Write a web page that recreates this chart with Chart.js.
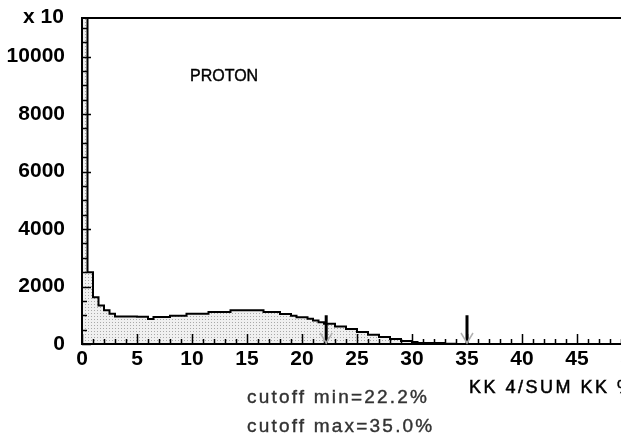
<!DOCTYPE html>
<html>
<head>
<meta charset="utf-8">
<script src="https://cdn.jsdelivr.net/npm/chart.js@4/dist/chart.umd.min.js"></script>
<style>
  html, body { margin: 0; padding: 0; background: #fff; overflow: hidden; }
  #wrap { position: relative; width: 650px; height: 435px; }
  .lbl { position: absolute; white-space: nowrap; font-family: "Liberation Sans", Arial, sans-serif; color: #000; }
  #xten { left: 23px; top: 5px; font-size: 21px; line-height: 21px; font-weight: bold; }
  #proton { left: 190px; top: 68px; font-size: 16px; line-height: 16px; font-family: "Liberation Sans Narrow", "Liberation Sans", sans-serif; color: #000; -webkit-text-stroke: 0.4px #000; }
  #xtitle { left: 469px; top: 378px; font-size: 18px; line-height: 18px; letter-spacing: 2.5px; color: #000; -webkit-text-stroke: 0.5px #000; }
  .cut { left: 247px; font-size: 19px; line-height: 19px; letter-spacing: 2.2px; color: #333; -webkit-text-stroke: 0.4px #333; }
</style>
</head>
<body>
<div id="wrap">
  <canvas id="histo"></canvas>
  <div class="lbl" id="xten">x 10</div>
  <div class="lbl" id="proton">PROTON</div>
  <div class="lbl" id="xtitle">KK 4/SUM KK %</div>
  <div class="lbl cut" style="top:387px">cutoff min=22.2%</div>
  <div class="lbl cut" style="top:416px">cutoff max=35.0%</div>
</div>
<script>
  // histogram: 100 bins of 0.5 % from 0 to 50
  const binWidth = 0.5;
  const counts = [
    11800, 2500, 1630, 1340, 1170, 1050, 960, 960, 955, 955,
    950, 950, 870, 940, 940, 940, 985, 985, 985, 1050,
    1050, 1050, 1050, 1110, 1110, 1110, 1110, 1170, 1170, 1170,
    1170, 1170, 1170, 1110, 1110, 1110, 1045, 1045, 985, 930,
    930, 875, 815, 760, 705, 705, 612, 612, 520, 520,
    420, 420, 325, 325, 245, 245, 175, 175, 105, 105,
    70, 35, 35, 35, 35, 35, 10, 10, 0, 0,
    0, 0, 0, 0, 0, 0, 0, 0, 0, 0,
    0, 0, 0, 0, 0, 0, 0, 0, 0, 0,
    0, 0, 0, 0, 0, 0, 0, 0, 0, 0
  ];
  const cutoffs = [22.2, 35.0];
  const arrowHeight = 1000;
  const xTicks = [0, 5, 10, 15, 20, 25, 30, 35, 40, 45, 50];
  const yTicks = [0, 2000, 4000, 6000, 8000, 10000];

  // points at the lower edge of each bin, plus the closing edge
  const histPoints = counts.map((c, i) => ({ x: i * binWidth, y: c }));
  histPoints.push({ x: counts.length * binWidth, y: counts[counts.length - 1] });

  // dotted grey fill like the shaded area
  const pat = document.createElement('canvas');
  pat.width = 3; pat.height = 3;
  const pctx = pat.getContext('2d');
  pctx.fillStyle = '#f0f0f0';
  pctx.fillRect(0, 0, 3, 3);
  pctx.fillStyle = '#a9a9a9';
  pctx.fillRect(1, 1, 1, 1);
  const dotFill = pctx.createPattern(pat, 'repeat');

  // cutoff arrows, drawn above the histogram
  const arrowSets = cutoffs.map(v => ({
    type: 'line',
    order: -1,
    data: [{ x: v, y: 0 }, { x: v, y: arrowHeight }],
    borderColor: '#000',
    borderWidth: 3,
    borderCapStyle: 'butt',
    pointRadius: 0,
    fill: false
  }));

  // frame, inward tick marks and the small arrow heads
  const framePlugin = {
    id: 'frame',
    afterDatasetsDraw(chart) {
      const { ctx, chartArea: a, scales: { x, y } } = chart;
      ctx.save();
      ctx.strokeStyle = '#000';
      ctx.lineWidth = 2;
      ctx.strokeRect(a.left, a.top, a.right - a.left, a.bottom - a.top);

      ctx.lineWidth = 1.5;
      ctx.beginPath();
      for (let v = 0; v <= 50; v += 1) {
        const px = Math.round(x.getPixelForValue(v)) + 0.5;
        const len = v % 5 === 0 ? 10 : 5;
        ctx.moveTo(px, a.bottom);
        ctx.lineTo(px, a.bottom - len);
      }
      for (let v = 0; v <= 11000; v += 500) {
        const py = Math.round(y.getPixelForValue(v)) + 0.5;
        const len = v % 2000 === 0 ? 9 : 5;
        ctx.moveTo(a.left, py);
        ctx.lineTo(a.left + len, py);
      }
      ctx.stroke();

      ctx.strokeStyle = '#b0b0b0';
      ctx.lineWidth = 1.5;
      const base = y.getPixelForValue(0);
      cutoffs.forEach(v => {
        const px = x.getPixelForValue(v);
        ctx.beginPath();
        ctx.moveTo(px - 6, base - 11);
        ctx.lineTo(px, base - 1);
        ctx.lineTo(px + 6, base - 11);
        ctx.stroke();
      });
      ctx.restore();
    }
  };

  const tickFont = { family: '"Liberation Sans", Arial, sans-serif', size: 21, weight: 'bold' };

  new Chart(document.getElementById('histo'), {
    type: 'line',
    data: {
      datasets: [{
        data: histPoints,
        order: 0,
        stepped: true,
        borderColor: '#000',
        borderWidth: 2,
        pointRadius: 0,
        fill: 'origin',
        backgroundColor: dotFill
      }, ...arrowSets]
    },
    options: {
      responsive: true,
      maintainAspectRatio: false,
      animation: false,
      devicePixelRatio: 1,
      layout: { padding: { top: 18, right: 18, left: 0, bottom: 0 } },
      plugins: { legend: { display: false }, tooltip: { enabled: false } },
      scales: {
        x: {
          type: 'linear',
          min: 0,
          max: 50,
          afterBuildTicks: s => { s.ticks = xTicks.map(v => ({ value: v })); },
          afterFit: s => { s.height = 91; s.paddingLeft = 0; s.paddingRight = 0; },
          ticks: { font: tickFont, color: '#000', padding: 3, maxRotation: 0, autoSkip: false,
                   callback: v => String(v) },
          grid: { display: false, drawTicks: false },
          border: { display: true, color: '#000', width: 2 }
        },
        y: {
          type: 'linear',
          min: 0,
          max: 11340,
          afterBuildTicks: s => { s.ticks = yTicks.map(v => ({ value: v })); },
          afterFit: s => { s.width = 82; s.paddingTop = 0; s.paddingBottom = 0; },
          ticks: { font: tickFont, color: '#000', padding: 17, callback: v => String(v) },
          grid: { display: false, drawTicks: false },
          border: { display: true, color: '#000', width: 2 }
        }
      }
    },
    plugins: [framePlugin]
  });
</script>
</body>
</html>
